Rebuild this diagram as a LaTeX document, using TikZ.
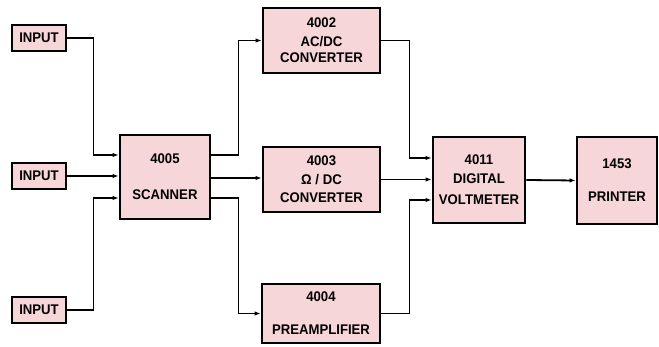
\documentclass[tikz,border=0pt]{standalone}
\usepackage{fontspec}
\setmainfont{Liberation Sans}[FakeStretch=0.94]
\usepackage{xcolor}
\usepackage{tikz}
\usetikzlibrary{arrows.meta,positioning,calc}
\definecolor{boxpink}{RGB}{247,214,218}

\begin{document}
\begin{tikzpicture}[
  x=1pt,y=-1pt,
  font=\bfseries\fontsize{14}{17}\selectfont,
  inbox/.style={draw,line width=2.8pt,fill=boxpink,minimum width=54pt,minimum height=26pt,inner sep=0pt},
  unit/.style={draw,line width=2.8pt,fill=boxpink,align=center,inner sep=0pt},
  arrow/.style={-{Latex[length=6pt,width=4.5pt]},line width=1.8pt}
]
\useasboundingbox (0,0) rectangle (659,347);

\node[inbox] (in1) at (39,38) {INPUT};
\node[inbox] (in2) at (39,176) {INPUT};
\node[inbox] (in3) at (39,310) {INPUT};

\node[unit,minimum width=90pt,minimum height=84pt] (scan) at (165,177) {4005\\[19pt]SCANNER};

\node[unit,minimum width=117pt,minimum height=65pt] (acdc) at (321.5,40.5) {4002\\[2pt]AC/DC\\[-1pt]CONVERTER};
\node[unit,minimum width=117pt,minimum height=65pt] (ohm) at (321.5,179.5) {4003\\[2pt]Ω / DC\\[1pt]CONVERTER};
\node[unit,minimum width=118pt,minimum height=59pt] (pre) at (321,313.5) {4004\\[16pt]PREAMPLIFIER};

\node[unit,minimum width=92pt,minimum height=86pt] (dvm) at (479,180) {4011\\[2pt]DIGITAL\\[4pt]VOLTMETER};
\node[unit,minimum width=80pt,minimum height=87pt] (prt) at (617,180.5) {1453\\[16pt]PRINTER};

% inputs to scanner
\draw[arrow] (in1.east) -- ++(26,0) |- ([yshift=22pt]scan.west);
\draw[arrow] (in2.east) -- (in2.east -| scan.west);
\draw[arrow] (in3.east) -- ++(26,0) |- ([yshift=-21pt]scan.west);

% scanner to converters
\draw[arrow] ([yshift=22pt]scan.east) -- ++(27,0) |- (acdc.west);
\draw[arrow] ([yshift=-1pt]scan.east) -- ([yshift=-1pt]scan.east -| ohm.west);
\draw[arrow] ([yshift=-21pt]scan.east) -- ++(27,0) |- (pre.west);

% converters to voltmeter
\draw[arrow] (acdc.east) -- ++(28,0) |- ([yshift=22pt]dvm.west);
\draw[arrow] (ohm.east) -- (ohm.east -| dvm.west);
\draw[arrow] (pre.east) -- ++(28,0) |- ([yshift=-20pt]dvm.west);

\draw[arrow] (dvm.east) -- (prt.west);
\end{tikzpicture}
\end{document}
